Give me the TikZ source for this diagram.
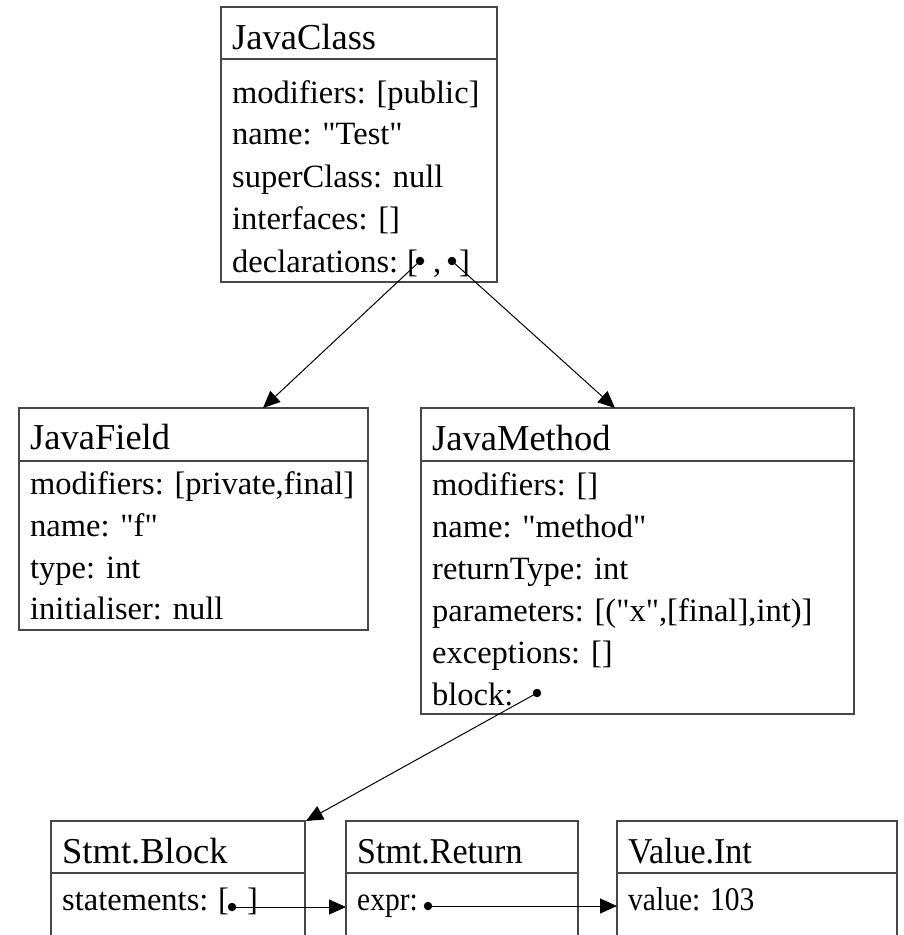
\documentclass[tikz,border=0pt]{standalone}
\usepackage{graphicx}
\usepackage{fontspec}
\setmainfont{Liberation Serif}[Ligatures=TeXOff]
\usetikzlibrary{arrows.meta}
% slightly taller lettering for the narrow records
\newcommand{\tallhdr}[1]{\scalebox{1}[1.07]{#1}}
\newcommand{\tallrow}[1]{\scalebox{1}[1.12]{#1}}

\begin{document}
\begin{tikzpicture}[x=1pt,y=-1pt,
  box/.style={draw=black!72, line width=1.3pt},
  hdr/.style={anchor=base west, inner sep=0pt, font=\fontsize{36.5}{40}\selectfont},
  hdrs/.style={anchor=base west, inner sep=0pt, font=\fontsize{34}{38}\selectfont},
  row/.style={anchor=base west, inner sep=0pt, font=\fontsize{32.5}{36}\selectfont},
  rows/.style={anchor=base west, inner sep=0pt, font=\fontsize{29.5}{33}\selectfont},
  ptr/.style={circle, fill=black, inner sep=0pt, minimum size=8.5pt},
  link/.style={draw=black, line width=1pt, -{Triangle[length=17pt,width=15pt]}}]
\useasboundingbox (0,0) rectangle (904,935);
\clip (0,0) rectangle (904,935);

% record boxes
\draw[box] (221,7) rectangle (497,282);   \draw[box] (221,59) -- (497,59);
\draw[box] (19,408) rectangle (368,630);  \draw[box] (19,461) -- (368,461);
\draw[box] (421,408) rectangle (854,714); \draw[box] (421,461) -- (854,461);
\draw[box] (51,821) rectangle (305,960);  \draw[box] (51,873) -- (305,873);
\draw[box] (346,821) rectangle (578,960); \draw[box] (346,873) -- (578,873);
\draw[box] (617,821) rectangle (897,960); \draw[box] (617,873) -- (897,873);

% JavaClass
\node[hdr] (jcH) at (232,49) {JavaClass};
\node[row] (jc1) at (232,103) {modifiers: [public]};
\node[row] (jc2) at (232,144.5) {name: "Test"};
\node[row] (jc3) at (232,187) {superClass: null};
\node[row] (jc4) at (232,229.5) {interfaces: []};
\node[row] (jc5) at (232,272) {declarations:};
\node[row] (jc5a) at (407,272) {[};
\node[row] (jc5b) at (433,272) {,};
\node[row] (jc5c) at (459,272) {]};

% JavaField
\node[hdr] (jfH) at (30,449) {JavaField};
\node[row] (jf1) at (30,494) {modifiers: [private,final]};
\node[row] (jf2) at (30,536) {name: "f"};
\node[row] (jf3) at (30,578) {type: int};
\node[row] (jf4) at (30,619) {initialiser: null};

% JavaMethod
\node[hdr] (jmH) at (432,450) {JavaMethod};
\node[row] (jm1) at (432,495) {modifiers: []};
\node[row] (jm2) at (432,537) {name: "method"};
\node[row] (jm3) at (432,579) {returnType: int};
\node[row] (jm4) at (432,621) {parameters: [("x",[final],int)]};
\node[row] (jm5) at (432,663) {exceptions: []};
\node[row] (jm6) at (432,705) {block:};

% Stmt.Block
\node[hdr] (sbH) at (62,863) {Stmt.Block};
\node[row] (sb1) at (62,910) {statements:};
\node[row] (sb1a) at (218,910) {[};
\node[row] (sb1b) at (247,910) {]};

% Stmt.Return
\node[hdrs] (srH) at (357,863) {\tallhdr{Stmt.Return}};
\node[rows] (sr1) at (357,910) {\tallrow{expr:}};

% Value.Int
\node[hdrs] (viH) at (628,863) {\tallhdr{Value.Int}};
\node[rows] (vi1) at (628,910) {\tallrow{value: 103}};

% pointer targets
\coordinate (jfIn) at (263,408);
\coordinate (jmIn) at (615,408);
\coordinate (sbIn) at (306,821);
\coordinate (srIn) at (346,907);
\coordinate (viIn) at (617,906);

% pointer sources
\coordinate (d1) at (420,261);
\coordinate (d2) at (452,261);
\coordinate (db) at (537,693);
\coordinate (ds) at (232,907);
\coordinate (de) at (428,906);

\draw[link] (d1) -- (jfIn);
\draw[link] (d2) -- (jmIn);
\draw[link] (db) -- (sbIn);
\draw[link] (ds) -- (srIn);
\draw[link] (de) -- (viIn);

\foreach \p in {d1,d2,db,ds,de} \node[ptr] at (\p) {};
\end{tikzpicture}
\end{document}
